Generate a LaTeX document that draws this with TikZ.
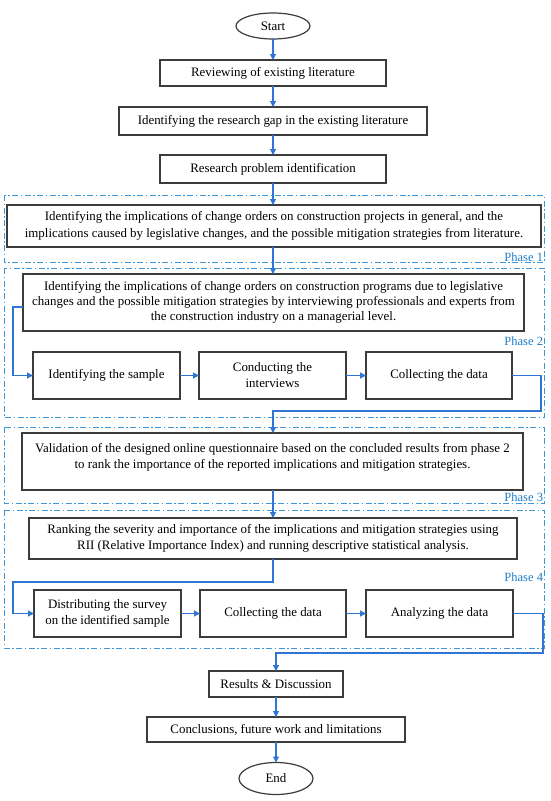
\documentclass[tikz,border=0pt]{standalone}
\usepackage{fontspec}
\setmainfont{Liberation Serif}
\usetikzlibrary{arrows.meta,shapes.geometric}
\definecolor{conn}{RGB}{46,117,212}
\definecolor{phasec}{RGB}{64,150,214}
\definecolor{phaset}{RGB}{30,125,200}
\definecolor{boxc}{RGB}{60,60,60}
\tikzset{
  every node/.style={font=\fontsize{12.9}{16}\selectfont, inner sep=0pt, outer sep=0pt},
  box/.style={draw=boxc, line width=1.4pt, rectangle, align=center, fill=white},
  term/.style={draw=boxc, line width=1.2pt, ellipse, fill=white},
  conn/.style={draw=conn, line width=1.1pt, -{Triangle[length=6pt,width=6pt]}},
  phase/.style={draw=phasec, line width=1pt, dash pattern=on 6pt off 2.5pt on 1.5pt off 2.5pt},
  phaselab/.style={text=phaset, anchor=east, font=\fontsize{12.5}{14}\selectfont}
}
\begin{document}
\begin{tikzpicture}[x=1pt,y=-1pt]
\useasboundingbox (0,0) rectangle (550,801);
\fill[white] (0,0) rectangle (550,801);
% phase frames
\draw[phase] (4,195) rectangle (544,262);
\draw[phase] (4,268) rectangle (544,417);
\draw[phase] (4,427) rectangle (544,503);
\draw[phase] (4,510) rectangle (544,648);
\node[phaselab] (ph1) at (543,257) {Phase 1};
\node[phaselab] (ph2) at (543,341) {Phase 2};
\node[phaselab] (ph3) at (543,497) {Phase 3};
\node[phaselab] (ph4) at (543,577) {Phase 4};
% nodes
\node[term, minimum width=74pt, minimum height=26pt] (start) at (273,26) {Start};
\node[box, minimum width=226pt, minimum height=26pt] (rev) at (273,73) {Reviewing of existing literature};
\node[box, minimum width=308pt, minimum height=28pt] (gap) at (273,121) {Identifying the research gap in the existing literature};
\node[box, minimum width=226pt, minimum height=28pt] (prob) at (273,169) {Research problem identification};
\node[box, minimum width=534pt, minimum height=42pt, font=\fontsize{12.9}{17}\selectfont] (p1box) at (274,226) {Identifying the implications of change orders on construction projects in general, and the\\implications caused by legislative changes, and the possible mitigation strategies from literature.};
\node[box, minimum width=501pt, minimum height=57pt, font=\fontsize{12.9}{15}\selectfont] (p2box) at (273.5,302.5) {Identifying the implications of change orders on construction programs due to legislative\\changes and the possible mitigation strategies by interviewing professionals and experts from\\the construction industry on a managerial level.};
\node[box, minimum width=147pt, minimum height=47pt] (s1) at (106.5,375.5) {Identifying the sample};
\node[box, minimum width=147pt, minimum height=47pt] (s2) at (272.5,375.5) {Conducting the\\interviews};
\node[box, minimum width=146pt, minimum height=47pt] (s3) at (439,375.5) {Collecting the data};
\node[box, minimum width=501pt, minimum height=57pt, text depth=12pt] (p3box) at (272.5,461.5) {Validation of the designed online questionnaire based on the concluded results from phase 2\\to rank the importance of the reported implications and mitigation strategies.};
\node[box, minimum width=488pt, minimum height=41pt] (p4box) at (273,538.5) {Ranking the severity and importance of the implications and mitigation strategies using\\RII (Relative Importance Index) and running descriptive statistical analysis.};
\node[box, minimum width=147pt, minimum height=47pt] (d1) at (107.5,613.5) {Distributing the survey\\on the identified sample};
\node[box, minimum width=146pt, minimum height=47pt] (d2) at (273,613.5) {Collecting the data};
\node[box, minimum width=147pt, minimum height=47pt] (d3) at (439.5,613.5) {Analyzing the data};
\node[box, minimum width=134pt, minimum height=26pt] (res) at (276,684) {Results \& Discussion};
\node[box, minimum width=258pt, minimum height=25pt] (conc) at (276,729.5) {Conclusions, future work and limitations};
\node[term, minimum width=74pt, minimum height=32pt] (end) at (276,778.5) {End};
% helper coordinates
\coordinate (c1) at (541,411);
\coordinate (c2) at (13,582);
\coordinate (c3) at (543,653);
\coordinate (c4) at (13,307);
% connectors
\draw[conn] (start) -- (rev);
\draw[conn] (rev) -- (gap);
\draw[conn] (gap) -- (prob);
\draw[conn] (prob) -- (prob |- p1box.north);
\draw[conn] (p1box.south -| prob) -- (prob |- p2box.north);
\draw[conn] (p2box.west |- c4) -- (c4) |- (s1.west);
\draw[conn] (s1) -- (s2);
\draw[conn] (s2) -- (s3);
\draw[conn] (s3.east) -| (c1) -- (c1 -| prob) -- (prob |- p3box.north);
\draw[conn] (p3box.south -| prob) -- (prob |- p4box.north);
\draw[conn] (p4box.south -| prob) |- (c2) |- (d1.west);
\draw[conn] (d1) -- (d2);
\draw[conn] (d2) -- (d3);
\draw[conn] (d3.east) -| (c3) -- (c3 -| res) -- (res.north);
\draw[conn] (res) -- (conc);
\draw[conn] (conc) -- (end);
\end{tikzpicture}
\end{document}
